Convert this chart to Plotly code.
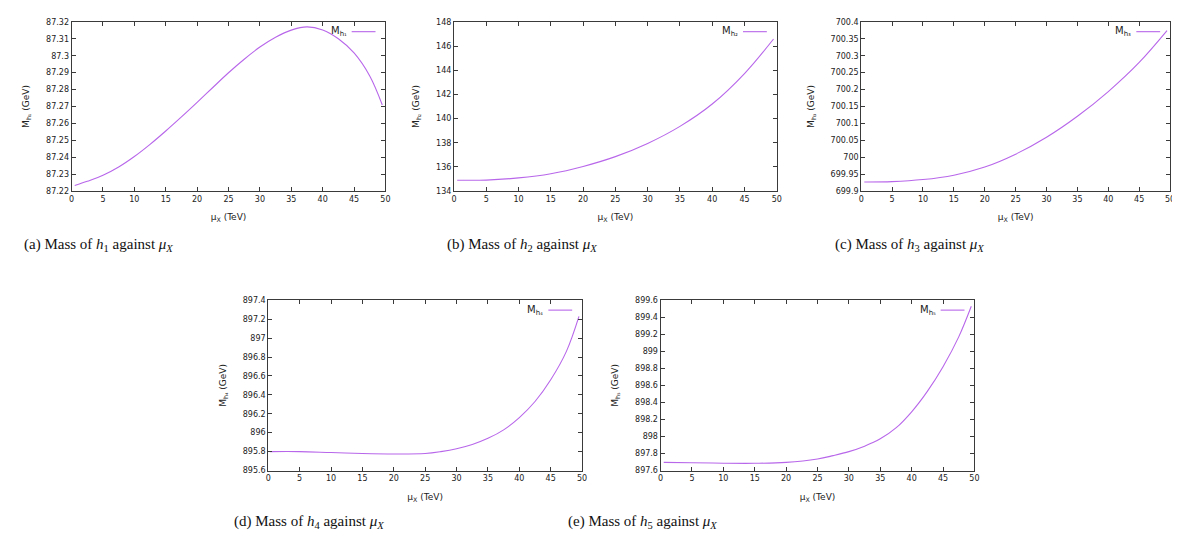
import plotly.graph_objects as go

# ---------------- data ----------------
mu_x_a = [0.5, 2.5, 5, 7.5, 10, 12.5, 15, 17.5, 20, 22.5, 25, 27.5, 30, 32.5, 35, 37.5, 40, 42.5, 45, 47.5, 49.5]
m_h1 = [87.2233, 87.2258, 87.2293, 87.2342, 87.2404, 87.2476, 87.2555, 87.2638, 87.2724, 87.2812, 87.2899,
        87.2979, 87.3051, 87.3109, 87.3151, 87.3170, 87.3152, 87.3100, 87.3016, 87.2880, 87.2709]

mu_x_b = [0.5, 5, 10, 15, 20, 25, 30, 35, 40, 45, 49.5]
m_h2 = [134.90, 134.91, 135.09, 135.44, 136.04, 136.85, 137.94, 139.35, 141.20, 143.72, 146.58]

mu_x_c = [0.5, 5, 10, 15, 20, 25, 30, 35, 40, 45, 49.5]
m_h3 = [699.927, 699.928, 699.934, 699.947, 699.971, 700.009, 700.059, 700.121, 700.194, 700.280, 700.374]

mu_x_d = [0.3, 5, 10, 15, 20, 25, 27.5, 30, 32.5, 35, 37.5, 40, 42.5, 45, 47.5, 49.5]
m_h4 = [895.80, 895.80, 895.79, 895.78, 895.775, 895.78, 895.80, 895.83, 895.875, 895.94, 896.03,
        896.16, 896.33, 896.56, 896.86, 897.23]

mu_x_e = [0.5, 5, 10, 15, 20, 25, 27.5, 30, 32.5, 35, 37.5, 40, 42.5, 45, 47.5, 49.5]
m_h5 = [897.696, 897.692, 897.686, 897.685, 897.695, 897.735, 897.775, 897.822, 897.886, 897.972, 898.10,
        898.29, 898.53, 898.82, 899.17, 899.53]

x_ticks = [0, 5, 10, 15, 20, 25, 30, 35, 40, 45, 50]
y_ticks_a = [87.22, 87.23, 87.24, 87.25, 87.26, 87.27, 87.28, 87.29, 87.30, 87.31, 87.32]
y_labels_a = ["87.22", "87.23", "87.24", "87.25", "87.26", "87.27", "87.28", "87.29", "87.3", "87.31", "87.32"]
y_ticks_b = [134, 136, 138, 140, 142, 144, 146, 148]
y_labels_b = ["134", "136", "138", "140", "142", "144", "146", "148"]
y_ticks_c = [699.9, 699.95, 700.0, 700.05, 700.1, 700.15, 700.2, 700.25, 700.3, 700.35, 700.4]
y_labels_c = ["699.9", "699.95", "700", "700.05", "700.1", "700.15", "700.2", "700.25", "700.3", "700.35", "700.4"]
y_ticks_d = [895.6, 895.8, 896.0, 896.2, 896.4, 896.6, 896.8, 897.0, 897.2, 897.4]
y_labels_d = ["895.6", "895.8", "896", "896.2", "896.4", "896.6", "896.8", "897", "897.2", "897.4"]
y_ticks_e = [897.6, 897.8, 898.0, 898.2, 898.4, 898.6, 898.8, 899.0, 899.2, 899.4, 899.6]
y_labels_e = ["897.6", "897.8", "898", "898.2", "898.4", "898.6", "898.8", "899", "899.2", "899.4", "899.6"]

names = ["M<sub>h₁</sub>", "M<sub>h₂</sub>", "M<sub>h₃</sub>", "M<sub>h₄</sub>", "M<sub>h₅</sub>"]
captions = ["(a) Mass of <i>h</i><sub>1</sub> against <i>μ</i><sub><i>X</i></sub>",
            "(b) Mass of <i>h</i><sub>2</sub> against <i>μ</i><sub><i>X</i></sub>",
            "(c) Mass of <i>h</i><sub>3</sub> against <i>μ</i><sub><i>X</i></sub>",
            "(d) Mass of <i>h</i><sub>4</sub> against <i>μ</i><sub><i>X</i></sub>",
            "(e) Mass of <i>h</i><sub>5</sub> against <i>μ</i><sub><i>X</i></sub>"]

# ---------------- layout geometry ----------------
W, H = 1180, 560
boxes = [  # left, right, top, bottom in px
    (61, 377, 10, 182),
    (446, 771, 10, 182),
    (856, 1167, 10, 182),
    (259, 575, 293, 466),
    (654, 970, 293, 466),
]
caption_pos = [(88, 237), (514, 237), (905, 237), (300, 518), (636, 518)]

series = [(mu_x_a, m_h1), (mu_x_b, m_h2), (mu_x_c, m_h3), (mu_x_d, m_h4), (mu_x_e, m_h5)]
yt = [(y_ticks_a, y_labels_a), (y_ticks_b, y_labels_b), (y_ticks_c, y_labels_c),
      (y_ticks_d, y_labels_d), (y_ticks_e, y_labels_e)]
yranges = [(87.22, 87.32), (134, 148), (699.9, 700.4), (895.6, 897.4), (897.6, 899.6)]

LINE = "#b867ea"
AX = "#3a3a3a"
FONT = "DejaVu Sans"

fig = go.Figure()
layout = dict(width=W, height=H, margin=dict(l=0, r=0, t=0, b=0),
              paper_bgcolor="white", plot_bgcolor="white", showlegend=False,
              font=dict(family=FONT, size=8, color="#222"))
shapes = []
annotations = []

for i, ((xs, ys), (l, r, t, b)) in enumerate(zip(series, boxes)):
    k = "" if i == 0 else str(i + 1)
    xa, ya = "x" + k, "y" + k
    fig.add_trace(go.Scatter(x=xs, y=ys, mode="lines", xaxis=xa, yaxis=ya,
                             line=dict(color=LINE, width=1.1, shape="spline", smoothing=1.0),
                             name=names[i]))
    common = dict(showgrid=False, zeroline=False, showline=True, linecolor=AX, linewidth=1,
                  mirror="ticks", ticks="inside", ticklen=4, tickcolor=AX,
                  tickfont=dict(family=FONT, size=8, color="#222"))
    layout["xaxis" + k] = dict(common, domain=[l / W, r / W], anchor=ya, range=[0, 50],
                               tickvals=x_ticks, ticktext=[str(v) for v in x_ticks],
                               title=dict(text="μ<sub>X</sub> (TeV)", standoff=11,
                                          font=dict(family=FONT, size=9, color="#222")))
    layout["yaxis" + k] = dict(common, domain=[1 - b / H, 1 - t / H], anchor=xa,
                               range=list(yranges[i]),
                               tickvals=yt[i][0], ticktext=yt[i][1],
                               title=dict(text=names[i] + " (GeV)", standoff=14,
                                          font=dict(family=FONT, size=9, color="#222")))
    # legend (gnuplot style: text then line sample)
    x0 = (r - 34) / W
    x1 = (r - 10) / W
    yl = 1 - (t + 10) / H
    shapes.append(dict(type="line", xref="paper", yref="paper", x0=x0, x1=x1, y0=yl, y1=yl,
                       line=dict(color=LINE, width=1.1)))
    annotations.append(dict(xref="paper", yref="paper", x=(r - 37) / W, y=yl, text=names[i],
                            showarrow=False, xanchor="right", yanchor="middle",
                            font=dict(family=FONT, size=10, color="#222")))
    cx, cy = caption_pos[i]
    annotations.append(dict(xref="paper", yref="paper", x=cx / W, y=1 - cy / H, text=captions[i],
                            showarrow=False, xanchor="center", yanchor="middle",
                            font=dict(family="Liberation Serif", size=15, color="#111")))

layout["shapes"] = shapes
layout["annotations"] = annotations
fig.update_layout(**layout)
fig.write_html("out.html")
